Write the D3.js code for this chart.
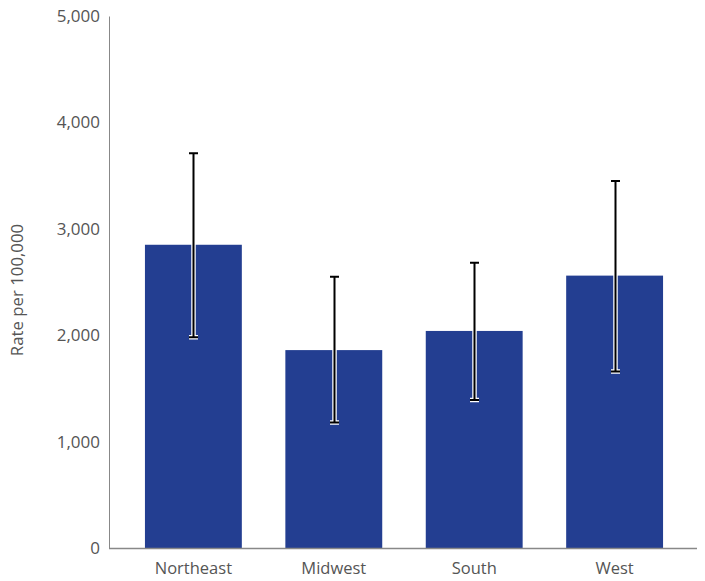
<!DOCTYPE html>
<html>
<head>
<meta charset="utf-8">
<script src="https://cdn.jsdelivr.net/npm/d3@7"></script>
<style>
  body { margin: 0; background: #fff; }
  svg { display: block; }
  text { font-family: "Open Sans", Lato, sans-serif; fill: #555; }
</style>
</head>
<body>
<svg id="chart" width="705" height="581"></svg>
<script>
const regions = ["Northeast", "Midwest", "South", "West"];
const rates = [2850, 1860, 2040, 2560];
const lowerCI = [1980, 1180, 1390, 1660];
const upperCI = [3710, 2550, 2680, 3450];
const yTicks = [0, 1000, 2000, 3000, 4000, 5000];
const yTitle = "Rate per 100,000";

const svg = d3.select("#chart");
const mLeft = 109, mRight = 697, mTop = 16, mBottom = 548;
const fontFam = "'Open Sans', Lato, sans-serif";

const y = d3.scaleLinear().domain([0, 5000]).range([mBottom, mTop]);
const x = d3.scaleBand().domain(regions).range([mLeft, 699]).paddingInner(0.31).paddingOuter(0.256);

// bars
svg.selectAll("rect.bar").data(regions).enter().append("rect")
  .attr("class", "bar")
  .attr("x", d => x(d))
  .attr("width", x.bandwidth())
  .attr("y", (d, i) => y(rates[i]))
  .attr("height", (d, i) => mBottom - y(rates[i]))
  .attr("fill", "#233E91");

// error bars: white halo then black line
const eb = svg.append("g");
regions.forEach((d, i) => {
  const cx = Math.round(x(d) + x.bandwidth() / 2) + 0.5;
  const y1 = y(upperCI[i]), y0 = y(lowerCI[i]);
  const path = `M${cx},${y0}L${cx},${y1}M${cx - 4.5},${y1}L${cx + 4.5},${y1}M${cx - 4.5},${y0}L${cx + 4.5},${y0}`;
  eb.append("path").attr("d", path).attr("stroke", "#fff").attr("stroke-width", 4.5).attr("fill", "none");
  eb.append("path").attr("d", path).attr("stroke", "#000").attr("stroke-width", 2).attr("fill", "none");
});

// y axis
const yAxis = d3.axisLeft(y).tickValues(yTicks).tickFormat(d3.format(",")).tickSize(0).tickPadding(9);
const gy = svg.append("g").attr("transform", `translate(${mLeft},0)`).call(yAxis);
gy.select(".domain").attr("stroke", "#888").attr("stroke-width", 1);
gy.selectAll("text").attr("font-size", 17).style("fill", "#555").attr("font-family", fontFam);

// x axis
const xAxis = d3.axisBottom(x).tickSize(0).tickPadding(14);
const gx = svg.append("g").attr("transform", `translate(0,${mBottom})`).call(xAxis);
gx.select(".domain").attr("d", `M${mLeft},0.5H${mRight}`).attr("stroke", "#888").attr("stroke-width", 1.5);
gx.selectAll("text").attr("font-size", 16.5).style("fill", "#555").attr("font-family", fontFam);

// y title
svg.append("text")
  .attr("transform", `translate(23,290) rotate(-90)`)
  .attr("text-anchor", "middle")
  .attr("font-size", 16.8)
  .attr("font-family", fontFam)
  .text(yTitle);
</script>
</body>
</html>
